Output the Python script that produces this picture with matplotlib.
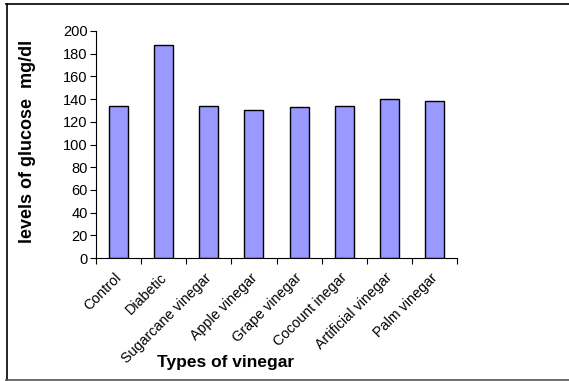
import matplotlib.pyplot as plt
from matplotlib.lines import Line2D
from matplotlib.transforms import ScaledTranslation

plt.rcParams['font.family'] = ['Liberation Sans', 'DejaVu Sans']

# 各组血糖值 (mg/dl)
groups = ['Control', 'Diabetic', 'Sugarcane vinegar', 'Apple vinegar',
          'Grape vinegar', 'Cocount inegar', 'Artificial vinegar', 'Palm vinegar']
glucose = [134, 188, 134, 130.5, 133, 134, 140, 138]
y_ticks = [0, 20, 40, 60, 80, 100, 120, 140, 160, 180, 200]

fig = plt.figure(figsize=(5.69, 3.81), dpi=100)
# 坐标区位置按像素换算
W, H = 569, 381
ax = fig.add_axes([96 / W, 1 - 258 / H, (457 - 96) / W, (258 - 31) / H])

x = list(range(len(groups)))
ax.bar(x, glucose, width=0.42, color='#9999FF', edgecolor='black', linewidth=1.0)

ax.set_xlim(-0.5, len(groups) - 0.5)
ax.set_ylim(0, 200)
ax.set_yticks(y_ticks)
ax.tick_params(axis='y', labelsize=10.5, length=4, width=0.8, pad=2)

# x 轴刻度在类别之间，标签在类别中间
ax.set_xticks([i - 0.5 for i in range(len(groups) + 1)])
ax.set_xticklabels([])
ax.tick_params(axis='x', length=4, width=0.8)
ax.set_xticks(x, minor=True)
ax.set_xticklabels(groups, minor=True, rotation=45, ha='right',
                   rotation_mode='anchor', fontsize=10.3)
ax.tick_params(axis='x', which='minor', length=0, pad=9)
shift = ScaledTranslation(-4 / 100, 0, fig.dpi_scale_trans)
for lbl in ax.get_xticklabels(minor=True):
    lbl.set_transform(lbl.get_transform() + shift)

for s in ['top', 'right']:
    ax.spines[s].set_visible(False)
for s in ['left', 'bottom']:
    ax.spines[s].set_linewidth(0.8)

fig.text(28 / W, 1 - 141 / H, 'levels of glucose  mg/dl', rotation=90,
         ha='center', va='center', fontsize=13, fontweight='bold')
fig.text(226 / W, 1 - 363 / H, 'Types of vinegar', ha='center', va='center',
         fontsize=12.5, fontweight='bold')

# 图表外框（左、上、下）
fig.add_artist(Line2D([6.5 / W, 6.5 / W], [1 - 4 / H, 1 - 380 / H],
                      color='black', linewidth=1.2, transform=fig.transFigure))
fig.add_artist(Line2D([6 / W, 1], [1 - 3.5 / H, 1 - 3.5 / H],
                      color='black', linewidth=1.2, transform=fig.transFigure))
fig.add_artist(Line2D([6 / W, 1], [1 - 379.5 / H, 1 - 379.5 / H],
                      color='#555555', linewidth=1.2, transform=fig.transFigure))

fig.savefig('out.png', dpi=100)
